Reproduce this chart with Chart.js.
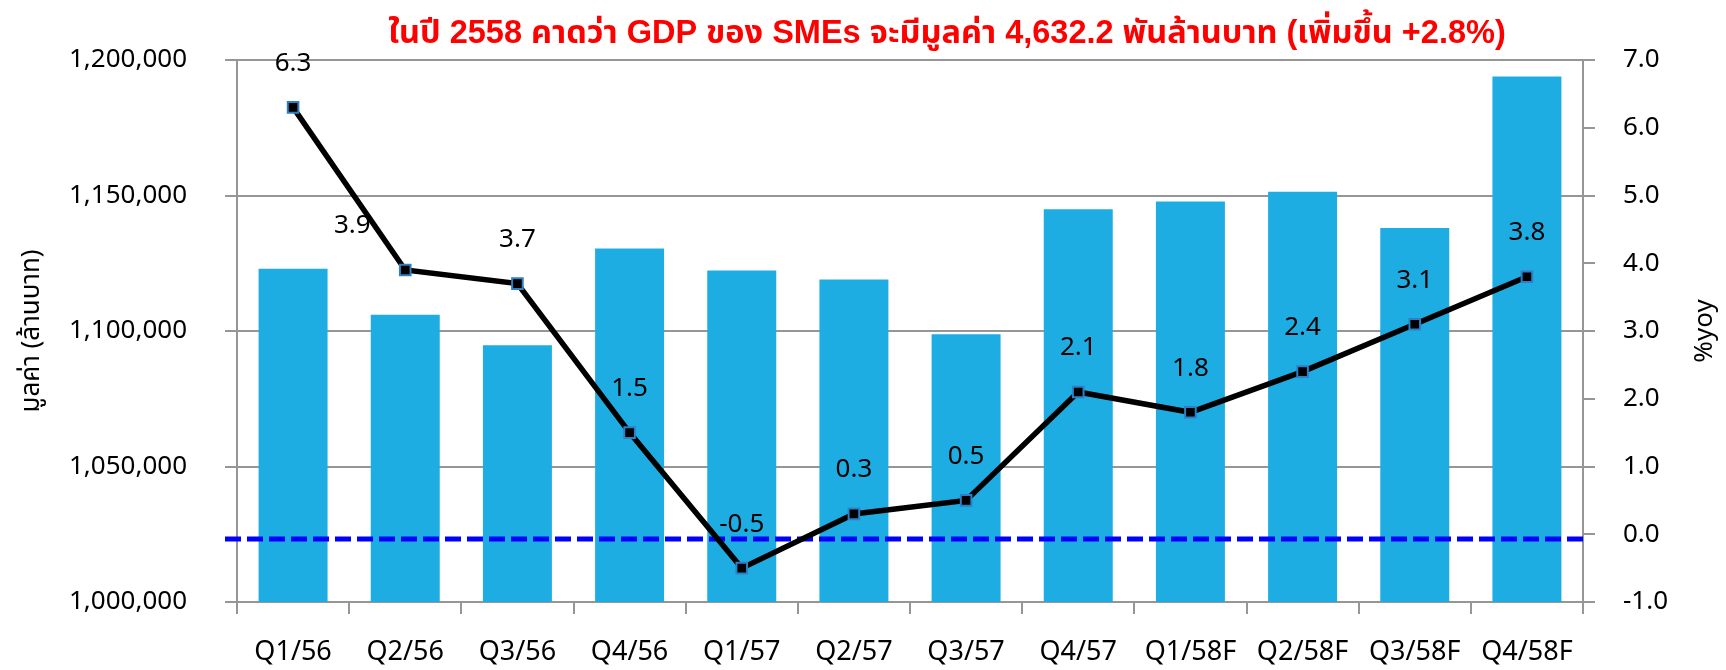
<!DOCTYPE html>
<html>
<head>
<meta charset="utf-8">
<script src="https://cdn.jsdelivr.net/npm/chart.js@4.4.1/dist/chart.umd.min.js"></script>
<style>
  body { margin: 0; background: #ffffff; }
  #wrap { width: 1726px; height: 670px; }
</style>
</head>
<body>
<div id="wrap"><canvas id="gdpChart" width="1726" height="670"></canvas></div>
<script>
// data
const quarters = ["Q1/56", "Q2/56", "Q3/56", "Q4/56", "Q1/57", "Q2/57", "Q3/57", "Q4/57", "Q1/58F", "Q2/58F", "Q3/58F", "Q4/58F"];
const gdpValues = [1123000, 1106000, 1094700, 1130400, 1122300, 1119000, 1098800, 1144900, 1147800, 1151400, 1138000, 1193900];
const yoyValues = [6.3, 3.9, 3.7, 1.5, -0.5, 0.3, 0.5, 2.1, 1.8, 2.4, 3.1, 3.8];
const gdpAxis = [1000000, 1200000, 50000];   // min, max, step
const yoyAxis = [-1, 7, 1];
const baselineValue = -0.07;                 // dashed blue line, right axis

const chartTitle = "ในปี 2558 คาดว่า GDP ของ SMEs จะมีมูลค่า 4,632.2 พันล้านบาท (เพิ่มขึ้น +2.8%)";
const leftTitle = "มูลค่า (ล้านบาท)";
const rightTitle = "%yoy";

const FONT = "'Noto Sans', 'Noto Sans Thai', 'Liberation Sans', 'DejaVu Sans', sans-serif";
const TITLE_FONT = "'Liberation Sans', 'Noto Sans Thai', 'Noto Sans', sans-serif";
const GRID = "#969696";

document.addEventListener("DOMContentLoaded", function () {
    const ctx = document.getElementById("gdpChart").getContext("2d");

    // dashed line drawn over the bars, under the %yoy line
    const baselinePlugin = {
        id: "baseline",
        afterDatasetDraw(chart, args) {
            if (args.index !== 0) return;
            const c = chart.ctx;
            const y = chart.scales.y1.getPixelForValue(baselineValue);
            c.save();
            c.strokeStyle = "#0000ff";
            c.lineWidth = 5;
            c.setLineDash([16, 6]);
            c.beginPath();
            c.moveTo(chart.chartArea.left - 12, y);
            c.lineTo(chart.chartArea.right, y);
            c.stroke();
            c.restore();
        }
    };

    // value labels above the points, and the texts around the plot
    const textPlugin = {
        id: "texts",
        afterDatasetsDraw(chart) {
            const c = chart.ctx;
            const meta = chart.getDatasetMeta(1);
            c.save();
            c.fillStyle = "#000000";
            c.font = "26px " + FONT;
            c.textAlign = "center";
            c.textBaseline = "middle";
            meta.data.forEach(function (pt, i) {
                let dx = 0;
                if (i === 1) dx = -53;   // 3.9 sits left of its point
                c.fillText(yoyValues[i].toFixed(1), pt.x + dx, pt.y - 44);
            });
            c.restore();
        },
        afterDraw(chart) {
            const c = chart.ctx;
            const area = chart.chartArea;
            const midY = (area.top + area.bottom) / 2;
            c.save();
            c.fillStyle = "#ff0000";
            c.font = "bold 32.5px " + TITLE_FONT;
            c.textAlign = "center";
            c.textBaseline = "middle";
            c.fillText(chartTitle, 947, 34);

            c.fillStyle = "#000000";
            c.font = "26px " + FONT;
            c.translate(32, midY);
            c.rotate(-Math.PI / 2);
            c.fillText(leftTitle, 0, 0);
            c.restore();

            c.save();
            c.fillStyle = "#000000";
            c.font = "26px " + FONT;
            c.textAlign = "center";
            c.textBaseline = "middle";
            c.translate(1705, midY);
            c.rotate(-Math.PI / 2);
            c.fillText(rightTitle, 0, 0);
            c.restore();
        }
    };

    window.gdpChart = new Chart(ctx, {
        type: "bar",
        data: {
            labels: quarters,
            datasets: [
                {
                    type: "bar",
                    label: "GDP SMEs",
                    data: gdpValues,
                    yAxisID: "y",
                    backgroundColor: "#1eade3",
                    borderWidth: 0,
                    barPercentage: 0.615,
                    categoryPercentage: 1,
                    order: 2,
                },
                {
                    type: "line",
                    label: "%yoy",
                    data: yoyValues,
                    yAxisID: "y1",
                    borderColor: "#000000",
                    borderWidth: 5.5,
                    tension: 0,
                    pointStyle: "rect",
                    pointRadius: 7.5,
                    pointBackgroundColor: "#000000",
                    pointBorderColor: "#2e7fc4",
                    pointBorderWidth: 2,
                    order: 1,
                },
            ],
        },
        options: {
            responsive: false,
            animation: false,
            layout: { padding: { top: 60, left: 0, right: 0, bottom: 0 } },
            plugins: {
                legend: { display: false },
                tooltip: { enabled: false },
            },
            scales: {
                x: {
                    offset: true,
                    grid: { offset: true, drawOnChartArea: false, color: GRID, lineWidth: 2, tickLength: 12 },
                    border: { color: GRID, width: 2 },
                    ticks: { color: "#000000", font: { family: FONT, size: 27 }, padding: 22, maxRotation: 0 },
                    afterFit: function (s) { s.height = 68; },
                },
                y: {
                    position: "left",
                    min: gdpAxis[0],
                    max: gdpAxis[1],
                    grid: { color: GRID, lineWidth: 2, tickLength: 12 },
                    border: { color: GRID, width: 2 },
                    ticks: {
                        stepSize: gdpAxis[2],
                        color: "#000000",
                        font: { family: FONT, size: 26 },
                        padding: 38,
                        callback: function (v) { return v.toLocaleString("en-US"); },
                    },
                    afterFit: function (s) { s.width = 237; },
                },
                y1: {
                    position: "right",
                    min: yoyAxis[0],
                    max: yoyAxis[1],
                    grid: { drawOnChartArea: false, color: GRID, lineWidth: 2, tickLength: 12 },
                    border: { color: GRID, width: 2 },
                    ticks: {
                        stepSize: yoyAxis[2],
                        color: "#000000",
                        font: { family: FONT, size: 26 },
                        padding: 28,
                        callback: function (v) { return v.toFixed(1); },
                    },
                    afterFit: function (s) { s.width = 143; },
                },
            },
        },
        plugins: [baselinePlugin, textPlugin],
    });
});
</script>
</body>
</html>
